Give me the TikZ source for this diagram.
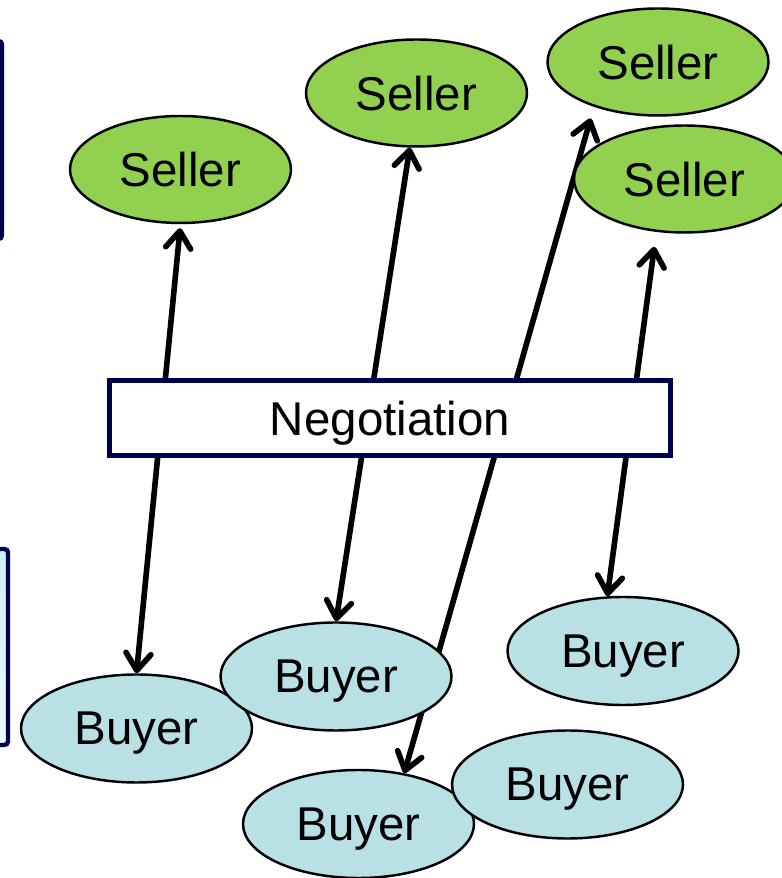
\documentclass[tikz,border=0pt]{standalone}
\usepackage{fontspec}
\setmainfont{Liberation Sans}
\usepackage{tikz}
\usetikzlibrary{arrows.meta}
\usetikzlibrary{shapes.geometric,backgrounds}
\definecolor{sellergreen}{HTML}{92D050}
\definecolor{buyerblue}{HTML}{B9E0E4}
\definecolor{framenavy}{RGB}{0,0,80}
\definecolor{paletop}{HTML}{CDEFF3}
\definecolor{palebottom}{HTML}{EEFAFC}
\tikzset{
  every node/.style={font=\fontsize{27pt}{32pt}\selectfont, text depth=0pt}
}
\begin{document}
\begin{tikzpicture}
  % Define styles for parties
  \tikzset{
    seller/.style={
      draw,
      ellipse,
      fill=sellergreen,
      minimum width=4.42cm,
      minimum height=2.14cm,
      inner sep=0pt,
      line width=1.4pt
    },
    buyer/.style={
      draw,
      ellipse,
      fill=buyerblue,
      minimum width=4.62cm,
      minimum height=2.16cm,
      inner sep=0pt,
      line width=1.4pt
    },
    deal/.style={
      draw=framenavy,
      rectangle,
      fill=white,
      minimum width=11.22cm,
      minimum height=1.5cm,
      line width=2.5pt
    },
    link/.style={
      draw,
      line width=3.2pt,
      line cap=round,
      >={Straight Barb[length=3.4mm, width=5mm, round]},
      <->
    }
  }
  \useasboundingbox (0,0) rectangle (15.62,17.56);

  % Frames cut by the left edge
  \draw[framenavy, line width=2.5pt, rounded corners=2pt, fill=white] (-4,12.78) rectangle (0.04,16.74);
  \draw[framenavy, line width=2.5pt, rounded corners=2pt, top color=paletop, bottom color=palebottom] (-4,2.66) rectangle (0.16,6.58);

  % Create sellers
  \node[seller] (s1) at (3.61,14.17) {Seller};
  \node[seller] (s2) at (8.33,15.70) {Seller};
  \node[seller] (s3) at (13.16,16.32) {Seller};
  \node[seller] (s4) at (13.69,13.98) {Seller};

  % Create buyers
  \node[buyer] (b1) at (2.73,2.99) {Buyer};
  \node[buyer] (b2) at (6.72,4.03) {Buyer};
  \node[buyer] (b3) at (12.46,4.54) {Buyer};
  \node[buyer] (b4) at (7.17,1.08) {Buyer};
  \node[buyer] (b5) at (11.35,1.87) {Buyer};

  % Negotiation box in the middle
  \node[deal] (neg) at (7.80,9.20) {Negotiation};

  % Connect sellers and buyers behind the nodes
  \begin{scope}[on background layer]
    \draw[link, shorten <=0.08cm] (s1.south) -- (b1.north);
    \draw[link] (s2.263) -- (b2.north);
    \draw[link, shorten <=0.24cm] (s3.215) -- (b4.48);
    \draw[link, shorten <=0.3cm] (s4.242) -- (b3.106);
  \end{scope}
\end{tikzpicture}
\end{document}
